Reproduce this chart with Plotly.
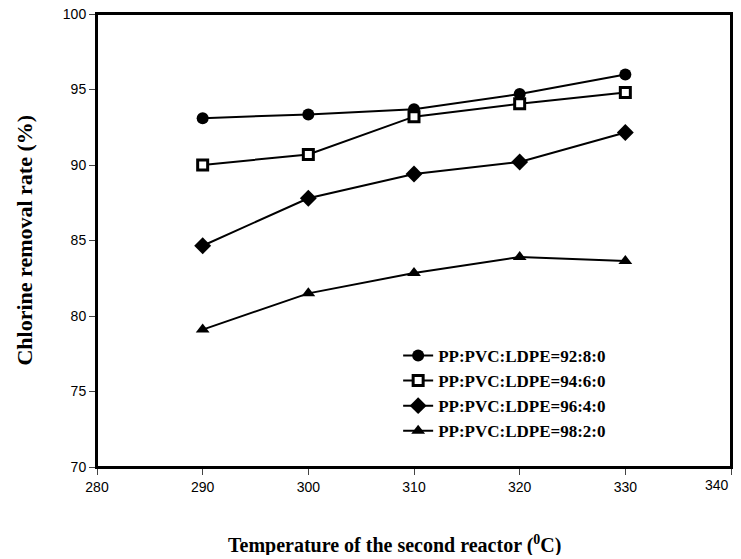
import plotly.graph_objects as go

temps = [290, 300, 310, 320, 330]
s_92_8 = [93.1, 93.35, 93.7, 94.7, 96.0]
s_94_6 = [90.0, 90.7, 93.2, 94.05, 94.8]
s_96_4 = [84.65, 87.8, 89.4, 90.2, 92.15]
s_98_2 = [79.1, 81.5, 82.85, 83.9, 83.65]
names = ["PP:PVC:LDPE=92:8:0", "PP:PVC:LDPE=94:6:0", "PP:PVC:LDPE=96:4:0", "PP:PVC:LDPE=98:2:0"]
x_ticks = [280, 290, 300, 310, 320, 330, 340]
x_ticktext = ["280", "290", "300", "310", "320", "330", ""]
y_ticks = [70, 75, 80, 85, 90, 95, 100]

fig = go.Figure()
series = [s_92_8, s_94_6, s_96_4, s_98_2]
markers = [
    dict(symbol="circle", size=12, color="black"),
    dict(symbol="square", size=10, color="white", line=dict(color="black", width=3)),
    dict(symbol="diamond", size=13, color="black"),
    dict(symbol="triangle-up", size=12, color="black"),
]
for ys, nm, mk in zip(series, names, markers):
    fig.add_trace(go.Scatter(x=temps, y=ys, name="<b>" + nm + "</b>", mode="lines+markers",
                             line=dict(color="black", width=2), marker=mk, cliponaxis=False))

fig.update_layout(
    width=725, height=547,
    paper_bgcolor="white", plot_bgcolor="white",
    margin=dict(l=89, r=2, t=6, b=88, autoexpand=False),
    showlegend=True,
    legend=dict(x=0.475, y=0.285, xanchor="left", yanchor="top",
                bgcolor="rgba(0,0,0,0)", tracegroupgap=0,
                font=dict(family="Liberation Serif", size=17, color="black")),
    xaxis=dict(range=[280, 340], tickvals=x_ticks, ticktext=x_ticktext, ticks="outside", ticklen=6,
               showline=True, linecolor="black", linewidth=2, mirror=True,
               showgrid=False, zeroline=False, ticklabeloverflow="allow",
               tickfont=dict(family="Liberation Sans", size=14, color="black")),
    yaxis=dict(range=[70, 100], tickvals=y_ticks, ticks="outside", ticklen=6,
               showline=True, linecolor="black", linewidth=2, mirror=True,
               showgrid=False, zeroline=False, ticklabeloverflow="allow",
               tickfont=dict(family="Liberation Sans", size=14, color="black")),
)
fig.add_shape(type="rect", xref="paper", yref="paper", x0=0, y0=0, x1=1, y1=1,
              line=dict(color="black", width=2), fillcolor="rgba(0,0,0,0)", layer="above")
fig.add_annotation(text=str(x_ticks[-1]), xref="x", yref="y", x=x_ticks[-1], y=70,
                   xanchor="right", yanchor="top", yshift=-8, showarrow=False,
                   font=dict(family="Liberation Sans", size=14, color="black"))
fig.add_annotation(text="<b>Temperature of the second reactor (<sup>0</sup>C)</b>",
                   xref="paper", yref="paper", x=0.47, y=-0.170, xanchor="center", yanchor="middle",
                   showarrow=False, font=dict(family="Liberation Serif", size=20, color="black"))
fig.add_annotation(text="<b>Chlorine removal rate (%)</b>",
                   xref="paper", yref="paper", x=-0.115, y=0.5, xanchor="center", yanchor="middle",
                   textangle=-90, showarrow=False,
                   font=dict(family="Liberation Serif", size=22, color="black"))

fig.write_html("out.html")
